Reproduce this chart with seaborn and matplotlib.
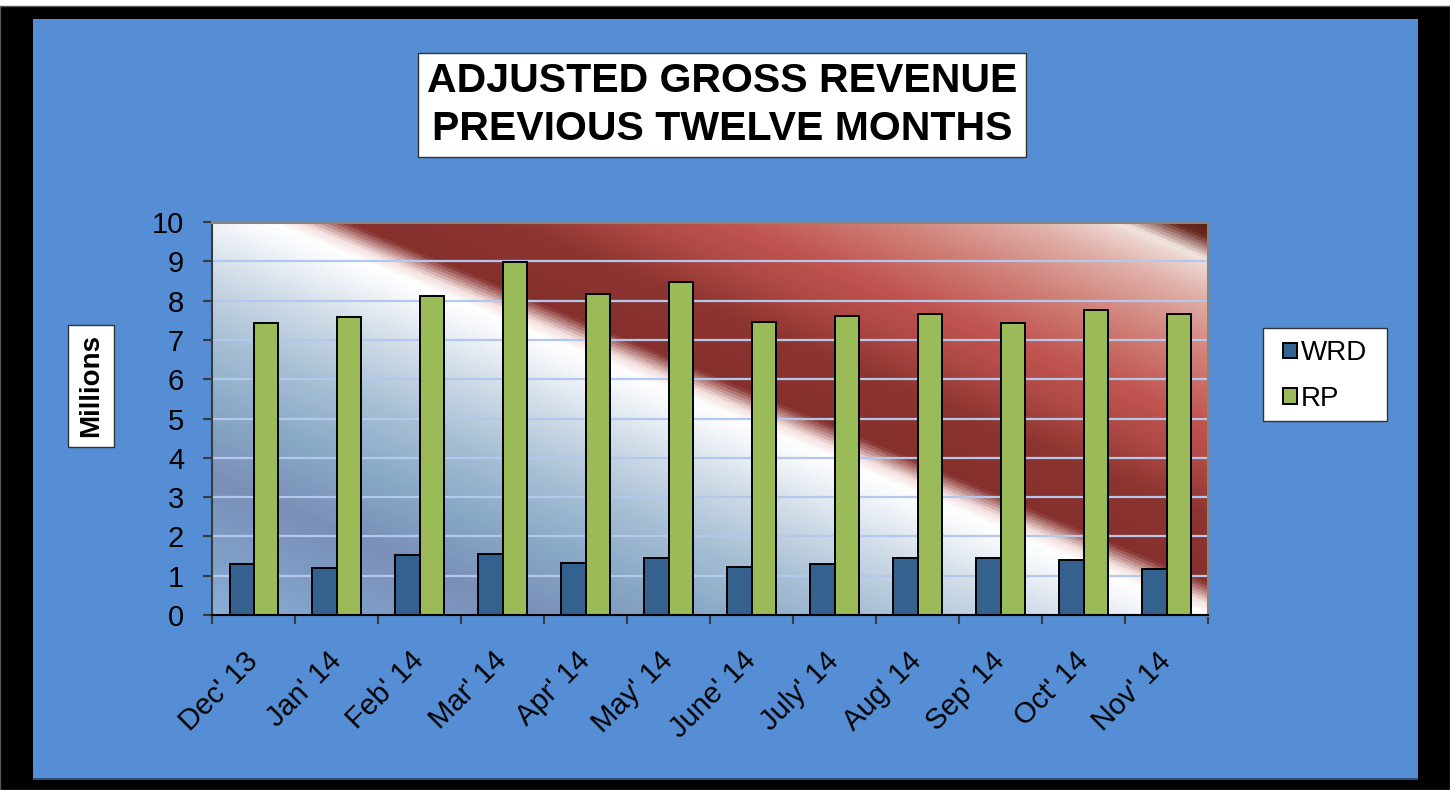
import numpy as np
import pandas as pd
import matplotlib
matplotlib.use("Agg")
import matplotlib.pyplot as plt
import matplotlib.patches as mpatches
from matplotlib.colors import LinearSegmentedColormap
import seaborn as sns

# data (millions)
months = ["Dec' 13", "Jan' 14", "Feb' 14", "Mar' 14", "Apr' 14", "May' 14",
          "June' 14", "July' 14", "Aug' 14", "Sep' 14", "Oct' 14", "Nov' 14"]
wrd = [1.30, 1.19, 1.52, 1.56, 1.33, 1.45, 1.22, 1.30, 1.46, 1.44, 1.41, 1.16]
rp = [7.43, 7.59, 8.12, 8.99, 8.18, 8.47, 7.46, 7.60, 7.67, 7.42, 7.77, 7.67]
series = ["WRD", "RP"]
colors = ["#35618f", "#9bbb59"]

df = pd.DataFrame({
    "month": months * 2,
    "value": wrd + rp,
    "series": ["WRD"] * len(months) + ["RP"] * len(months),
})

sns.set_theme(style="white")
plt.rcParams['font.family'] = ['Liberation Sans', 'DejaVu Sans']
plt.rcParams['text.color'] = 'black'

W, H = 1450, 790
fig = plt.figure(figsize=(14.5, 7.9), dpi=100)
fig.patch.set_facecolor("white")

# black frame + blue panel
fig.patches.append(mpatches.Rectangle((0, 0), 1, 1 - 6 / H, transform=fig.transFigure,
                                      fc="black", ec="#555555", lw=1, zorder=-3))
fig.patches.append(mpatches.Rectangle((33 / W, 1 - 780 / H), (1418 - 33) / W, 2 / H,
                                      transform=fig.transFigure, fc="#2b4f7e", ec="none", zorder=-2))
fig.patches.append(mpatches.Rectangle((33 / W, 1 - 778 / H), (1418 - 33) / W, (778 - 19) / H,
                                      transform=fig.transFigure, fc="#558ed5", ec="none", zorder=-2))

# plot area in pixels
x0, x1, ytop, ybot = 212.5, 1208, 222, 615
ax = fig.add_axes([x0 / W, 1 - ybot / H, (x1 - x0) / W, (ybot - ytop) / H])

# diagonal gradient fill behind the bars
stops = [(-530, "#8cb0d8"), (-470, "#80a0c8"), (-390, "#7a8fb8"), (-320, "#88a8c6"),
         (-250, "#a6bfd4"), (-180, "#d0dce8"), (-125, "#f6f8fb"), (-108, "#ffffff"),
         (-96, "#f2e0de"), (-76, "#86302d"), (-10, "#8c3430"), (45, "#b04a46"),
         (85, "#c05450"), (150, "#d08078"), (210, "#e0b0a8"), (240, "#ecd4ce"),
         (250, "#f2e6e2"), (272, "#6a2a20"), (300, "#4a1810")]
lo, hi = stops[0][0], stops[-1][0]
cmap = LinearSegmentedColormap.from_list(
    "bg", [((s - lo) / (hi - lo), c) for s, c in stops])
gx = np.linspace(x0, x1, 800)
gy = np.linspace(ytop, ybot, 400)
XX, YY = np.meshgrid(gx, gy)
S = (0.42 * XX - YY - lo) / (hi - lo)
ax.imshow(np.clip(S, 0, 1), cmap=cmap, vmin=0, vmax=1, extent=(0, 1, 0, 1),
          transform=ax.transAxes, aspect="auto", zorder=0, interpolation="bilinear")

sns.barplot(data=df, x="month", y="value", hue="series", hue_order=series,
            palette=colors, saturation=1, width=0.59, edgecolor="black",
            linewidth=1.4, ax=ax, legend=False, zorder=2)

ax.set_xlim(-0.5, 11.5)
ax.set_ylim(0, 10)
ax.set_yticks(range(0, 11))
ax.set_axisbelow(True)
ax.yaxis.grid(True, color="#b4c8ee", lw=1.6)
ax.xaxis.grid(False)
ax.set_xlabel("")
ax.set_ylabel("")

for side in ["top", "right"]:
    ax.spines[side].set_color("#858585")
    ax.spines[side].set_linewidth(2.2)
ax.spines["left"].set_color("#3a3a3a")
ax.spines["left"].set_linewidth(1.5)
ax.spines["bottom"].set_color("black")
ax.spines["bottom"].set_linewidth(1.5)

ax.tick_params(axis="y", which="major", direction="out", length=6.5, width=1.5,
               color="#3a3a3a", labelsize=21, pad=14, left=True, labelcolor="black")
ax.set_xticks(np.arange(-0.5, 12, 1), minor=True)
ax.tick_params(axis="x", which="minor", direction="out", length=6.5, width=1.5,
               color="#3a3a3a", bottom=True)
ax.tick_params(axis="x", which="major", length=0, labelsize=21, pad=30,
               labelcolor="black")
plt.setp(ax.get_xticklabels(), rotation=45, ha="right", va="center",
         rotation_mode="anchor")

# title box
fig.text(722 / W, 1 - 105 / H, "ADJUSTED GROSS REVENUE\nPREVIOUS TWELVE MONTHS",
         ha="center", va="center", fontsize=29.5, fontweight="bold", linespacing=1.32,
         color="black",
         bbox=dict(boxstyle="square,pad=0.22", fc="white", ec="#333333", lw=1))

# y axis title box
fig.text(91 / W, 1 - 386 / H, "Millions", rotation=90, ha="center", va="center",
         fontsize=20, fontweight="bold", color="black",
         bbox=dict(boxstyle="square,pad=0.35", fc="white", ec="#333333", lw=1))

# legend: box drawn separately so its size matches the original
fig.patches.append(mpatches.Rectangle((1263 / W, 1 - 421 / H), 124 / W, 93 / H,
                                      transform=fig.transFigure, fc="white",
                                      ec="#333333", lw=1, zorder=1))
handles = [mpatches.Patch(facecolor=c, edgecolor="black", lw=1.4) for c in colors]
leg = fig.legend(handles, series, loc="center", bbox_to_anchor=(1325 / W, 1 - 376 / H),
                 fontsize=20, frameon=False, labelcolor="black",
                 handlelength=0.5, handleheight=0.5, handletextpad=0.15,
                 labelspacing=0.7, borderpad=0.2)

fig.savefig("out.png", dpi=100)
